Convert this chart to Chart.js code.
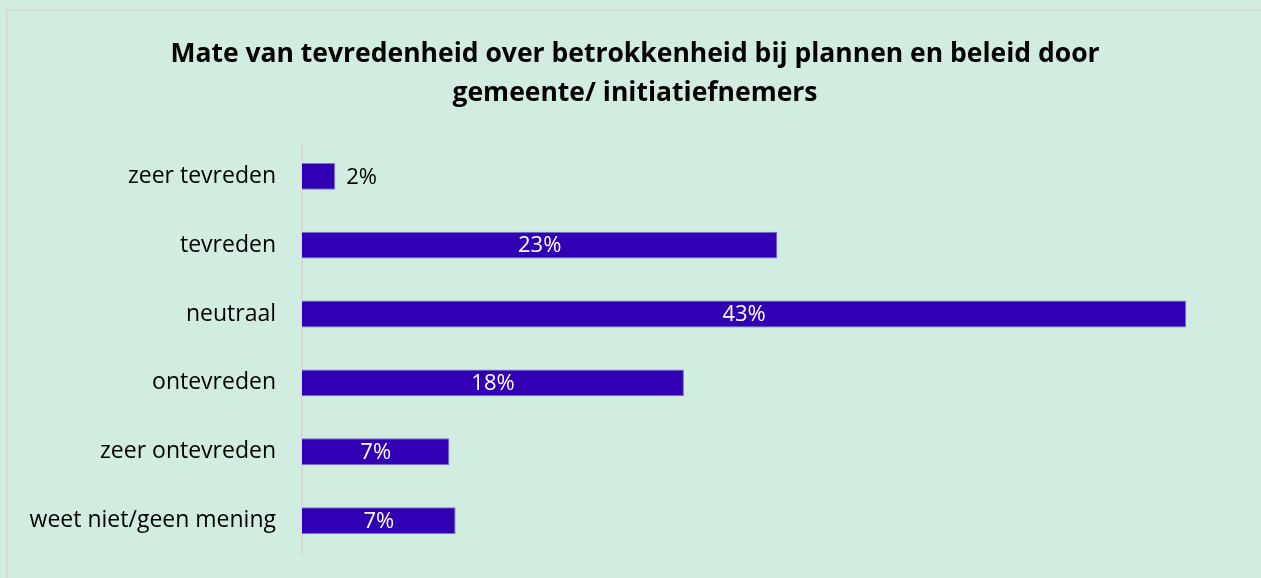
<!DOCTYPE html>
<html>
<head>
<meta charset="utf-8">
<script src="https://cdn.jsdelivr.net/npm/chart.js@4"></script>
<style>
  html, body { margin: 0; padding: 0; background: #d1eddf; }
  #wrap { position: absolute; left: 0; top: 0; width: 1261px; height: 578px; }
  #frame { position: absolute; left: 6px; top: 9px; right: -10px; bottom: -10px;
           border-top: 2px solid #d9d9d9; border-left: 2px solid #d9d9d9; }
</style>
</head>
<body>
<div id="wrap">
  <div id="frame"></div>
  <canvas id="tevredenChart" width="1261" height="578"></canvas>
</div>
<script>
const categories = ['zeer tevreden', 'tevreden', 'neutraal', 'ontevreden', 'zeer ontevreden', 'weet niet/geen mening'];
const percentages = [1.6, 22.9, 42.6, 18.4, 7.1, 7.4];
const titleLines = ['Mate van tevredenheid over betrokkenheid bij plannen en beleid door', 'gemeente/ initiatiefnemers'];

const fontFamily = "'Open Sans', 'DejaVu Sans', sans-serif";

// labels in/next to the bars, like the excel data labels
const barLabels = {
    id: 'barLabels',
    afterDatasetsDraw(chart) {
        const ctx = chart.ctx;
        const meta = chart.getDatasetMeta(0);
        ctx.save();
        ctx.font = '22px ' + fontFamily;
        ctx.textBaseline = 'middle';
        meta.data.forEach((bar, i) => {
            const text = Math.round(percentages[i]) + '%';
            const w = ctx.measureText(text).width;
            const barW = bar.x - bar.base;
            if (barW < w + 10) {
                ctx.fillStyle = '#000000';
                ctx.textAlign = 'left';
                ctx.fillText(text, bar.x + 11, bar.y + 1);
            } else {
                ctx.fillStyle = '#ffffff';
                ctx.textAlign = 'center';
                ctx.fillText(text, (bar.x + bar.base) / 2, bar.y + 1);
            }
        });
        ctx.restore();
    }
};

var chart = new Chart(document.getElementById('tevredenChart').getContext('2d'), {
    type: 'bar',
    data: {
        labels: categories,
        datasets: [{
            data: percentages,
            backgroundColor: '#3100b4',
            borderColor: '#7a6fd2',
            borderWidth: 1,
            borderSkipped: 'left',
            categoryPercentage: 1,
            barPercentage: 0.39
        }]
    },
    options: {
        indexAxis: 'y',
        responsive: false,
        animation: false,
        layout: {
            padding: { left: 9, right: 0, top: 35, bottom: 23 }
        },
        scales: {
            x: {
                display: false,
                min: 0,
                max: 46.2
            },
            y: {
                grid: { display: false, drawTicks: true, tickLength: 26 },
                border: { display: true, color: '#d9d9d9', width: 2 },
                ticks: {
                    color: '#000000',
                    padding: 0,
                    font: { family: fontFamily, size: 23 }
                },
                afterFit: function (scale) {
                    scale.width = 293;
                }
            }
        },
        plugins: {
            legend: { display: false },
            tooltip: { enabled: false },
            title: {
                display: true,
                text: titleLines,
                color: '#000000',
                font: { family: fontFamily, size: 26.5, weight: 'bold', lineHeight: 1.47 },
                padding: { top: 0, bottom: 29 }
            }
        }
    },
    plugins: [barLabels]
});
</script>
</body>
</html>
